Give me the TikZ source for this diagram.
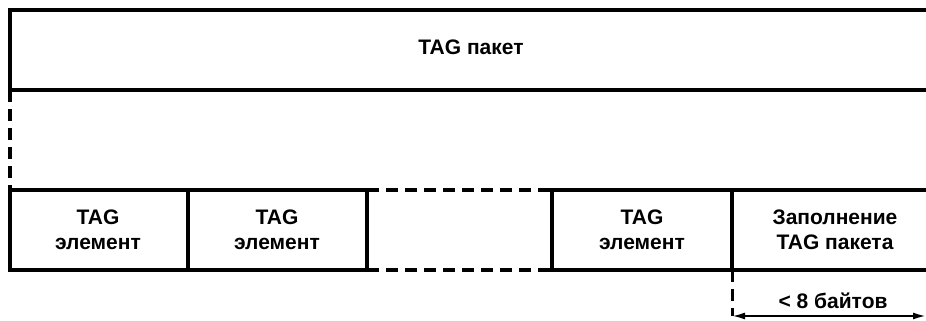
\documentclass[tikz,border=0pt]{standalone}
\usepackage{fontspec}
\setmainfont{Liberation Sans}
\usetikzlibrary{arrows.meta}
\tikzset{
  frame/.style = {line width=4.5pt},
  gapline/.style = {line width=4.5pt, dash pattern=on 12pt off 7pt},
  label/.style = {font=\bfseries\fontsize{21}{25}\selectfont, align=center, inner sep=0pt},
}
\begin{document}
\begin{tikzpicture}[x=1pt,y=-1pt]
\useasboundingbox (0,0) rectangle (926,321);

% TAG packet
\begin{scope}
\draw[frame] (926,10) -- (10,10) -- (10,90) -- (926,90) ;
\node[label] (packet) at (471,47) {TAG пакет} ;
\end{scope}

\draw[gapline] (10,90) -- (10,190) ;

% TAG elements
\begin{scope}
\draw[frame] (367,190) -- (10,190) -- (10,270) -- (367,270) ;
\draw[frame] (188,190) -- (188,270) ;
\draw[frame] (367,190) -- (367,270) ;
\draw[gapline] (367,190) -- (552,190) ;
\draw[gapline] (367,270) -- (552,270) ;
\draw[frame] (926,190) -- (552,190) -- (552,270) -- (926,270) ;
\draw[frame] (732,190) -- (732,270) ;
\node[label] (elemA) at (98,230) {TAG\\элемент} ;
\node[label] (elemB) at (277,230) {TAG\\элемент} ;
\node[label] (elemC) at (642,230) {TAG\\элемент} ;
\node[label] (padding) at (835,230) {Заполнение\\TAG пакета} ;
\end{scope}

% padding size
\coordinate (padL) at (732,316) ;
\coordinate (padR) at (926,316) ;
\draw[line width=3pt, dash pattern=on 12pt off 7pt] (732,270) -- (padL) ;
\draw[line width=2pt, {Latex[length=13pt,width=7pt]}-{Latex[length=13pt,width=7pt]}] (padL) -- (padR) ;
\node[label] (padsize) at (833,301) {< 8 байтов} ;

\end{tikzpicture}
\end{document}
